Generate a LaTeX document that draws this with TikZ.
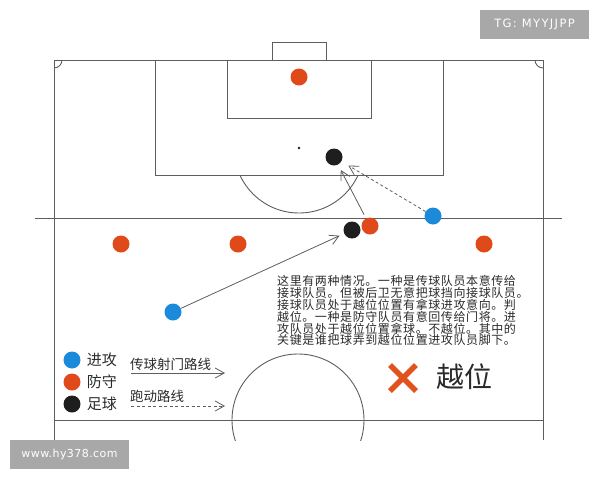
\documentclass[tikz,border=0pt]{standalone}
\usepackage{fontspec}
\usetikzlibrary{arrows.meta,positioning}
\newfontfamily\cjk{Noto Sans CJK SC}
\newfontfamily\cjknote{Noto Sans CJK SC}[LetterSpace=5]
\newfontfamily\wmfont{DejaVu Sans}[LetterSpace=4]
\newfontfamily\wmfontwide{DejaVu Sans}[LetterSpace=12]
\definecolor{linegray}{HTML}{5E5E5E}
\definecolor{textgray}{HTML}{2A2A2A}
\definecolor{attackblue}{HTML}{1C8ADB}
\definecolor{defendred}{HTML}{E04A1A}
\definecolor{ballblack}{HTML}{1E1E1E}
\definecolor{markgray}{HTML}{A8A8A8}
\definecolor{crossred}{HTML}{E0531F}
\tikzset{
	pitch/.style={draw=linegray, line width=0.9pt},
	player/.style={circle, inner sep=0pt, minimum size=17pt},
	attacker/.style={player, fill=attackblue},
	defender/.style={player, fill=defendred},
	ballnode/.style={player, fill=ballblack},
	pass/.style={draw=linegray, line width=0.8pt, -{Straight Barb[length=9pt,width=10pt]}},
	run/.style={pass, dash pattern=on 3pt off 2.5pt},
	keytext/.style={inner sep=0pt, text=textgray, font=\cjk\fontsize{15}{15}\selectfont},
	keysmall/.style={inner sep=0pt, text=textgray, font=\cjk\fontsize{13.5}{13.5}\selectfont},
	watermark/.style={fill=markgray, text=white, inner sep=0pt}
}
\begin{document}
\begin{tikzpicture}[x=1pt, y=-1pt]
						\useasboundingbox (0,0) rectangle (600,480);
						\begin{scope}
							\clip (0,0) rectangle (600,440);
							\draw[pitch] (54,440) -- (54,60) -- (543,60) -- (543,440);
							\draw[pitch] (54,420) -- (543,420);
							\draw[pitch] (298,420) circle[radius=66pt];
						\end{scope}
						\draw[pitch] (155,60) rectangle (443,175);
						\draw[pitch] (227,60) rectangle (371,118);
						\draw[pitch] (272,42) rectangle (326,60);
						\fill[ballblack] (299,148) circle[radius=1.4pt];
						\begin{scope}
							\clip (0,175) rectangle (600,440);
							\draw[pitch] (299,148) circle[radius=65pt];
						\end{scope}
						\draw[pitch] (54,68) arc[start angle=-90, end angle=0, radius=8pt];
						\draw[pitch] (535,60) arc[start angle=180, end angle=270, radius=8pt];
						\draw[pitch] (35,218) -- (562,218);
						\node[defender] (defend0) at (299,77) {};
						\node[defender] (defend1) at (121,244) {};
						\node[defender] (defend2) at (238,244) {};
						\node[defender] (defend3) at (370,226) {};
						\node[defender] (defend4) at (484,244) {};
						\node[attacker] (attack0) at (173,312) {};
						\node[attacker] (attack1) at (433,216) {};
						\node[ballnode] (ball0) at (352,230) {};
						\node[ballnode] (ball1) at (334,157) {};
						\draw[pass, shorten >=5pt] (attack0) -- (ball0);
						\draw[pass, shorten >=6pt, shorten <=4pt] (defend3) -- (ball1);
						\draw[run, shorten >=8pt] (attack1) -- (ball1);
						\node[anchor=north west, align=left, inner sep=0pt, text=textgray, font=\cjknote\fontsize{12}{11.8}\selectfont] (note) at (277,275.5) {这里有两种情况。一种是传球队员本意传给\\接球队员。但被后卫无意把球挡向接球队员。\\接球队员处于越位位置有拿球进攻意向。判\\越位。一种是防守队员有意回传给门将。进\\攻队员处于越位位置拿球。不越位。其中的\\关键是谁把球弄到越位位置进攻队员脚下。};
						\node[attacker] (key0) at (72,360) {};
						\node[defender] (key1) at (72,382) {};
						\node[ballnode] (key2) at (72,404) {};
						\node[keytext, right=6pt of key0] (keytext0) {进攻};
						\node[keytext, right=6pt of key1] (keytext1) {防守};
						\node[keytext, right=6pt of key2] (keytext2) {足球};
						\coordinate (pass0) at (131,373);
						\coordinate (pass1) at (225,373);
						\coordinate (run0) at (131,406);
						\coordinate (run1) at (225,406);
						\draw[pass] (pass0) -- (pass1);
						\draw[run] (run0) -- (run1);
						\node[keysmall, anchor=west] (passtext) at (130,364) {传球射门路线};
						\node[keysmall, anchor=west] (runtext) at (130,396) {跑动路线};
						\draw[crossred, line width=5.5pt] (390,365) -- (416,391) (416,365) -- (390,391);
						\node[anchor=west, inner sep=0pt, text=textgray, font=\cjk\fontsize{28}{28}\selectfont] (offside) at (436,377) {越位};
						\node[watermark, minimum width=109pt, minimum height=29pt, font=\wmfontwide\fontsize{11.5}{11.5}\selectfont] (tag0) at (534.5,24.5) {TG: MYYJJPP};
						\node[watermark, minimum width=119pt, minimum height=29pt, font=\wmfont\fontsize{11}{11}\selectfont] (tag1) at (69.5,454.5) {www.hy378.com};
					\end{tikzpicture}
\end{document}
